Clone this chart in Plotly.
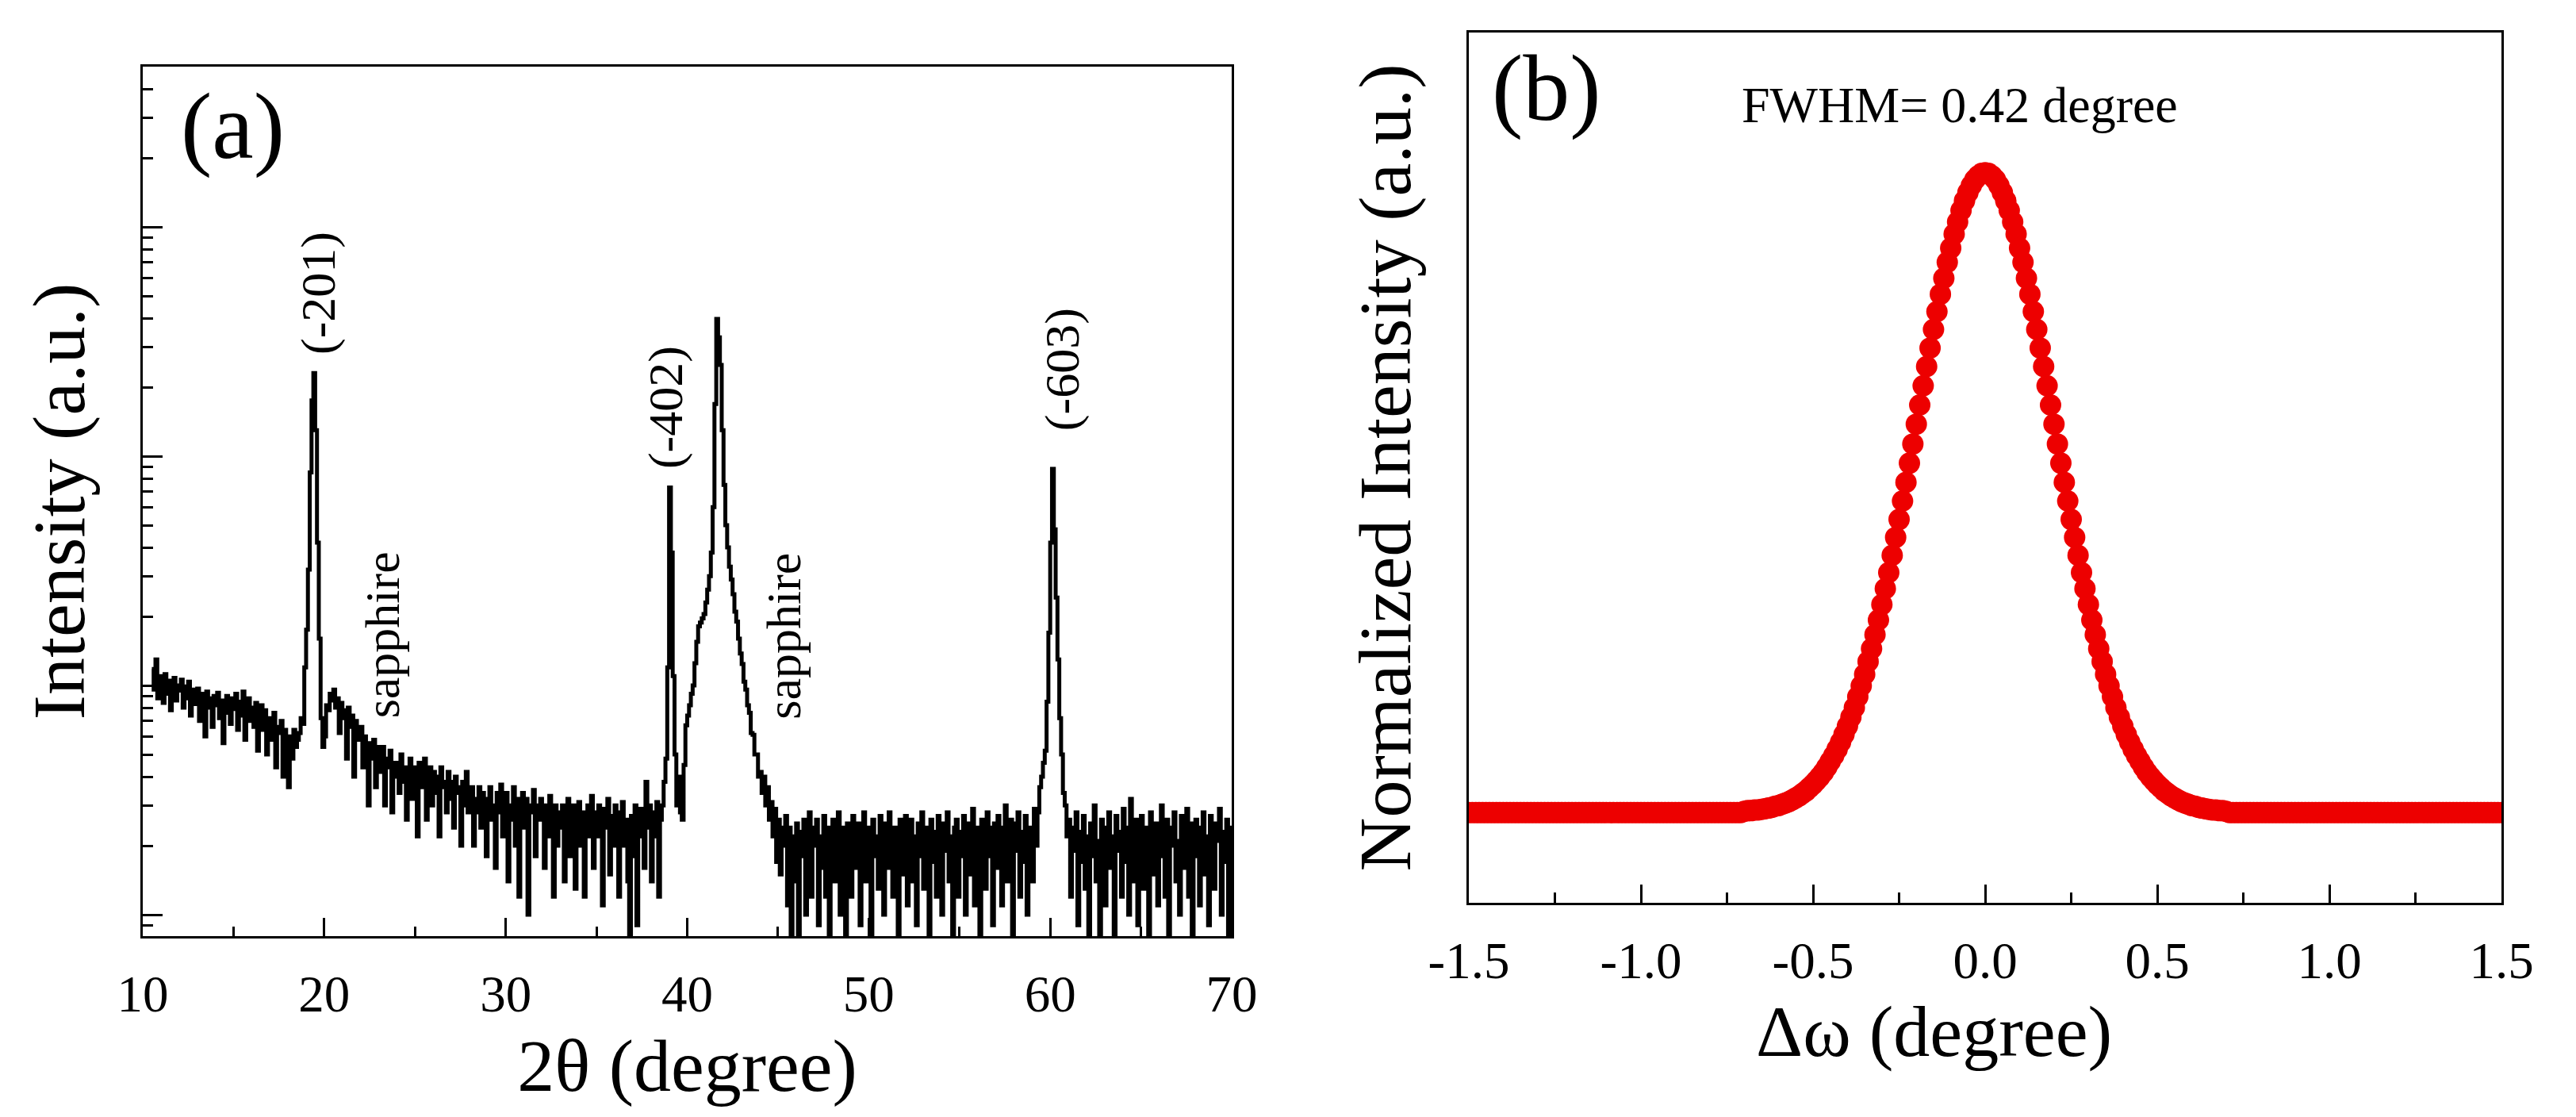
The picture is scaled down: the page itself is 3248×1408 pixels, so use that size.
import plotly.graph_objects as go

# ---------------- panel (a): 2theta scan, counts ----------------
scan_start = 10.5   # degree, first point of the scan
scan_step = 0.1     # degree

counts = [
    118, 96, 130, 88, 110,                              # 10.5-10.9
    102, 84, 112, 92, 105, 78, 98, 108, 86, 100,        # 11
    95, 106, 80, 99, 88, 104, 74, 96, 90, 83,           # 12
    97, 70, 92, 85, 60, 94, 80, 88, 66, 90,             # 13
    82, 93, 72, 86, 56, 84, 90, 76, 68, 88,             # 14
    79, 92, 64, 85, 74, 94, 58, 82, 88, 70,             # 15
    80, 66, 84, 52, 76, 82, 64, 78, 50, 72,             # 16
    68, 58, 76, 44, 66, 62, 70, 40, 64, 56,             # 17
    36, 60, 48, 64, 54, 58, 62, 72, 68, 120,            # 18
    175, 320, 850, 1750, 2306, 1300, 420, 160, 72, 54,  # 19  (-201)
    60, 82, 78, 92, 86, 96, 80, 88, 62, 84,             # 20
    72, 78, 48, 80, 66, 74, 40, 70, 62, 58,             # 21
    66, 44, 60, 52, 30, 56, 48, 58, 36, 54,             # 22
    50, 42, 54, 30, 48, 44, 52, 28, 46, 40,             # 23
    46, 34, 50, 38, 44, 26, 42, 48, 32, 44,             # 24
    40, 22, 46, 36, 42, 48, 26, 38, 44, 30,             # 25
    42, 34, 40, 22, 44, 36, 38, 28, 42, 32,             # 26
    38, 24, 40, 34, 36, 20, 38, 30, 42, 28,             # 27
    34, 36, 20, 32, 28, 36, 24, 34, 30, 18,             # 28
    32, 36, 26, 30, 16, 34, 28, 37, 22, 30,             # 29
    34, 14, 30, 26, 36, 20, 32, 12, 28, 34,             # 30
    24, 32, 10, 30, 28, 35, 18, 30, 26, 32,             # 31
    28, 16, 30, 22, 33, 26, 12, 30, 20, 28,             # 32
    24, 30, 14, 28, 32, 18, 26, 30, 13, 27,             # 33
    31, 20, 28, 12, 26, 30, 22, 33, 16, 28,             # 34
    22, 30, 26, 11, 29, 24, 32, 15, 27, 20,             # 35
    30, 24, 12, 28, 31, 20, 26, 14, 7, 27,              # 36
    18, 30, 9, 25, 29, 22, 16, 38, 24, 30,              # 37
    14, 28, 22, 31, 12, 26, 30, 38, 48, 120,            # 38
    730, 380, 110, 50, 30, 40, 28, 26, 45, 67,          # 39  (-402)
    74, 82, 92, 100, 125, 155, 181, 188, 196, 205,      # 40
    230, 262, 300, 380, 600, 1690, 3970, 3300, 2500, 1300,  # 41 sapphire
    750, 500, 400, 330, 290, 250, 210, 190, 160, 138,   # 42
    124, 104, 96, 82, 76, 62, 61, 50, 50, 40,           # 43
    42, 34, 40, 30, 36, 26, 31, 22, 29, 17,             # 44
    26, 15, 24, 20, 27, 11, 24, 7, 22, 14,              # 45
    25, 6, 23, 18, 26, 10, 22, 28, 12, 24,              # 46
    20, 26, 9, 22, 16, 27, 12, 24, 6, 21,               # 47
    26, 14, 22, 28, 10, 24, 18, 7, 25, 20,              # 48
    12, 27, 22, 16, 25, 9, 23, 28, 14, 21,              # 49
    24, 6, 26, 18, 22, 13, 27, 20, 10, 25,              # 50
    16, 28, 21, 12, 24, 19, 7, 26, 22, 15,              # 51
    27, 11, 23, 26, 14, 22, 9, 25, 18, 28,              # 52
    13, 24, 20, 6, 26, 17, 23, 12, 27, 21,              # 53
    10, 25, 19, 28, 14, 22, 8, 24, 26, 12,              # 54
    23, 18, 27, 10, 21, 25, 15, 29, 11, 24,             # 55
    20, 7, 26, 22, 13, 28, 18, 24, 9, 25,               # 56
    16, 27, 21, 11, 24, 30, 14, 22, 26, 8,              # 57
    25, 19, 28, 12, 23, 17, 27, 10, 24, 22,             # 58
    14, 29, 20, 28, 36, 40, 46, 52, 85, 170,            # 59
    420, 880, 480, 242, 130, 72, 50, 34, 30, 22,        # 60  (-603)
    26, 12, 24, 19, 28, 9, 23, 17, 27, 13,              # 61
    22, 6, 25, 18, 30, 14, 21, 8, 26, 20,               # 62
    11, 24, 28, 16, 22, 7, 27, 19, 23, 12,              # 63
    29, 17, 24, 10, 32, 20, 14, 26, 9, 22,              # 64
    27, 13, 24, 19, 8, 28, 21, 15, 25, 11,              # 65
    23, 30, 18, 12, 26, 7, 24, 20, 28, 14,              # 66
    21, 10, 27, 23, 16, 29, 12, 25, 6, 22,              # 67
    26, 18, 11, 24, 28, 15, 22, 9, 27, 20,              # 68
    13, 25, 21, 29, 10, 23, 17, 26, 8, 24,              # 69
    19,                                                 # 70.0
]
two_theta = [round(scan_start + i * scan_step, 2) for i in range(len(counts))]

# ---------------- panel (b): rocking curve, normalised ----------------
omega_start = -1.5
omega_step = 0.01
flat_tail = [0.0] * 80          # -1.50..-0.71 and 0.71..1.50 sit on the baseline
peak_profile = [                # -0.70 .. 0.70
    0.002, 0.003, 0.003, 0.004, 0.004, 0.005, 0.006, 0.007, 0.008, 0.010,
    0.011, 0.013, 0.015, 0.017, 0.020, 0.023, 0.026, 0.030, 0.034, 0.039,
    0.044, 0.050, 0.056, 0.063, 0.071, 0.080, 0.089, 0.099, 0.110, 0.122,
    0.135, 0.149, 0.164, 0.181, 0.198, 0.216, 0.236, 0.256, 0.278, 0.301,
    0.325, 0.350, 0.375, 0.402, 0.430, 0.458, 0.487, 0.516, 0.546, 0.576,
    0.607, 0.637, 0.667, 0.697, 0.726, 0.755, 0.783, 0.810, 0.835, 0.860,
    0.882, 0.904, 0.923, 0.941, 0.956, 0.969, 0.980, 0.989, 0.995, 0.999,
    1.000,
    0.999, 0.995, 0.989, 0.980, 0.969, 0.956, 0.941, 0.923, 0.904, 0.882,
    0.860, 0.835, 0.810, 0.783, 0.755, 0.726, 0.697, 0.667, 0.637, 0.607,
    0.576, 0.546, 0.516, 0.487, 0.458, 0.430, 0.402, 0.375, 0.350, 0.325,
    0.301, 0.278, 0.256, 0.236, 0.216, 0.198, 0.181, 0.164, 0.149, 0.135,
    0.122, 0.110, 0.099, 0.089, 0.080, 0.071, 0.063, 0.056, 0.050, 0.044,
    0.039, 0.034, 0.030, 0.026, 0.023, 0.020, 0.017, 0.015, 0.013, 0.011,
    0.010, 0.008, 0.007, 0.006, 0.005, 0.004, 0.004, 0.003, 0.003, 0.002,
]
norm_intensity = flat_tail + peak_profile + flat_tail
omega = [round(omega_start + i * omega_step, 2) for i in range(len(norm_intensity))]

omega_tickvals = [-1.5, -1.0, -0.5, 0.0, 0.5, 1.0, 1.5]
omega_ticktext = ["-1.5", "-1.0", "-0.5", "0.0", "0.5", "1.0", "1.5"]

# ---------------- layout helpers (page pixels -> paper) ----------------
W, H = 3248, 1408
def px(x):
    return x / W
def py(y):
    return 1 - y / H

FONT = "Liberation Serif, Times New Roman, serif"
axis_common = dict(
    showline=True, linewidth=3, linecolor="black", mirror=True,
    ticks="inside", tickwidth=3, tickcolor="black",
    showgrid=False, zeroline=False, automargin=False,
    tickfont=dict(family=FONT, size=65, color="black"),
)

fig = go.Figure()
fig.add_trace(go.Scatter(
    x=two_theta, y=counts, mode="lines", line_shape="hv",
    line=dict(color="black", width=5),
    xaxis="x", yaxis="y", showlegend=False,
))
fig.add_trace(go.Scatter(
    x=omega, y=norm_intensity, mode="markers",
    marker=dict(color="#ED0000", size=27, line=dict(width=0)),
    xaxis="x2", yaxis="y2", showlegend=False,
))

fig.update_layout(
    width=W, height=H,
    margin=dict(l=0, r=0, t=0, b=0),
    paper_bgcolor="white", plot_bgcolor="white",
    font=dict(family=FONT, color="black"),
    xaxis=dict(
        axis_common, domain=[px(172), px(1545)], anchor="y",
        range=[10, 70], tick0=10, dtick=10, ticklen=23, ticklabelstandoff=14,
        minor=dict(ticks="inside", dtick=5, ticklen=12, tickwidth=3, tickcolor="black"),
        title=dict(text="2θ (degree)", font=dict(family=FONT, size=94), standoff=22),
    ),
    yaxis=dict(
        axis_common, domain=[py(1172), py(76)], anchor="x",
        type="log", range=[0.907, 4.699], dtick=1, ticklen=25, showticklabels=False,
        minor=dict(ticks="inside", dtick="D1", ticklen=13, tickwidth=3, tickcolor="black"),
        title=dict(text="Intensity (a.u.)", font=dict(family=FONT, size=94), standoff=40),
    ),
    xaxis2=dict(
        axis_common, domain=[px(1844), px(3146)], anchor="y2",
        range=[-1.5, 1.5], tickmode="array", tickvals=omega_tickvals, ticktext=omega_ticktext,
        ticklen=23, ticklabelstandoff=14,
        minor=dict(ticks="inside", tickmode="linear", tick0=-1.5, dtick=0.25,
                   ticklen=13, tickwidth=3, tickcolor="black"),
    ),
    yaxis2=dict(
        axis_common, domain=[py(1130), py(33)], anchor="x2",
        range=[-0.141, 1.219], ticks="", showticklabels=False,
        title=dict(text="Normalized Intensity (a.u.)", font=dict(family=FONT, size=94), standoff=40),
    ),
)

# peak / substrate labels (y in log10 units on the log axis)
for text, x, ylog in [("(-201)", 19.7, 3.713), ("(-402)", 38.8, 3.211), ("(-603)", 60.65, 3.377),
                      ("sapphire", 23.2, 2.221), ("sapphire", 45.3, 2.215)]:
    fig.add_annotation(x=x, y=ylog, xref="x", yref="y", text=text, textangle=-90,
                       showarrow=False, xanchor="center", yanchor="middle",
                       font=dict(family=FONT, size=62, color="black"))

# x title of panel (b) sits a little left of the axis centre in the original
fig.add_annotation(x=px(2430), y=py(1292), xref="paper", yref="paper", text="Δω (degree)",
                   showarrow=False, xanchor="center", yanchor="middle",
                   font=dict(family=FONT, size=92, color="black"))

fig.add_annotation(x=px(285), y=py(152), xref="paper", yref="paper", text="(a)",
                   showarrow=False, xanchor="center", yanchor="middle",
                   font=dict(family=FONT, size=118, color="black"))
fig.add_annotation(x=px(1942), y=py(104), xref="paper", yref="paper", text="(b)",
                   showarrow=False, xanchor="center", yanchor="middle",
                   font=dict(family=FONT, size=118, color="black"))
fig.add_annotation(x=px(2463), y=py(124), xref="paper", yref="paper", text="FWHM= 0.42 degree",
                   showarrow=False, xanchor="center", yanchor="middle",
                   font=dict(family=FONT, size=64, color="black"))

fig.write_html("out.html")
